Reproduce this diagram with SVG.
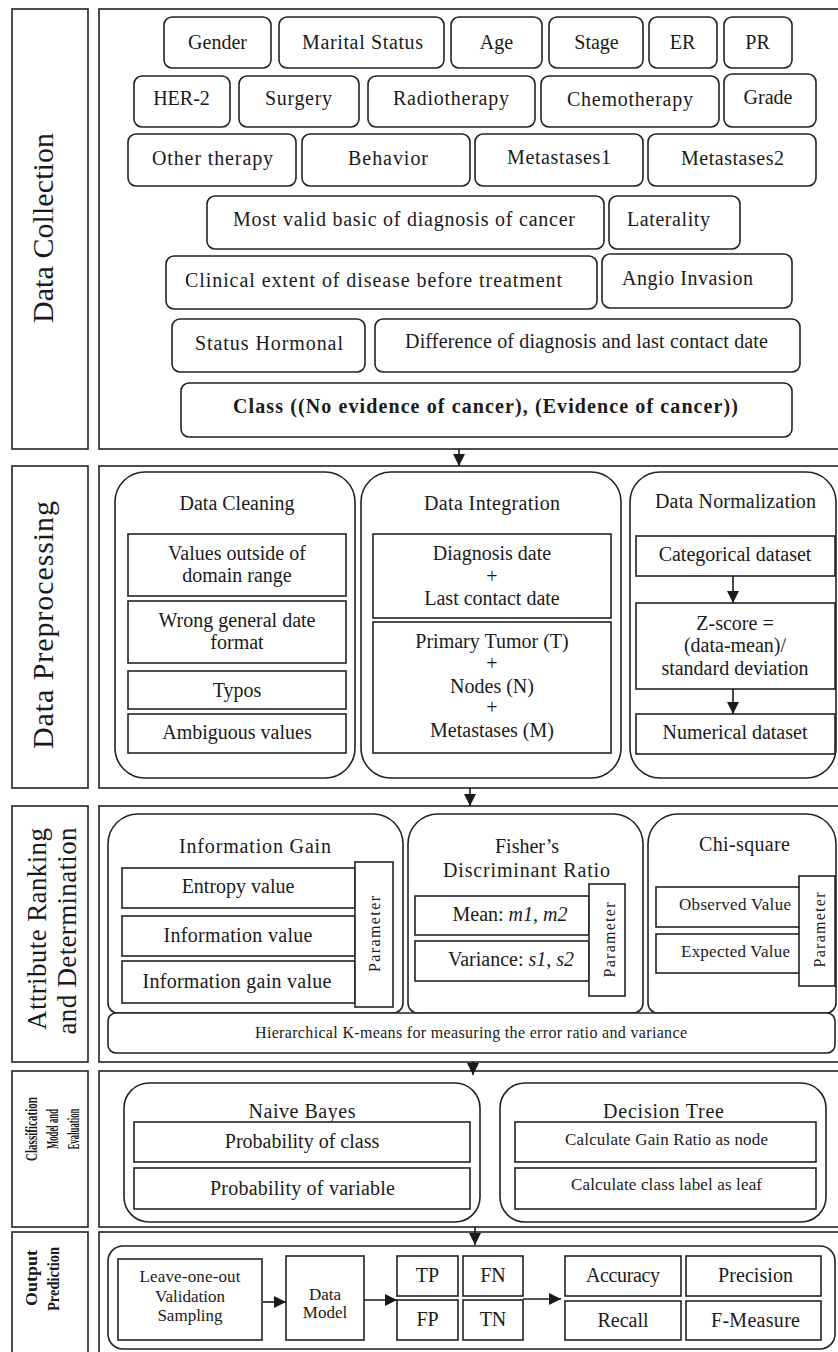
<svg xmlns="http://www.w3.org/2000/svg" width="838" height="1352" viewBox="0 0 838 1352">
  <defs>
    <marker id="arrow" viewBox="0 0 12 12" refX="12" refY="6" markerWidth="12" markerHeight="12" markerUnits="userSpaceOnUse" orient="auto">
      <path d="M0,0 L12,6 L0,12 Z" fill="#1a1a1a"/>
    </marker>
    <style>
      rect, path.panel { fill: #ffffff; stroke: #222222; stroke-width: 1.6; }
      text { font-family: "Liberation Serif", "Times New Roman", serif; fill: #1a1a1a; text-anchor: middle; }
      .f20 { font-size: 20px; }
      .f17 { font-size: 17px; }
      .f16 { font-size: 16px; }
      .lbl { font-size: 30px; }
      .lbl2 { font-size: 27px; }
      .lbs { font-size: 17px; font-weight: bold; }
      .b { font-weight: bold; }
      .conn line { stroke: #1a1a1a; stroke-width: 1.6; marker-end: url(#arrow); }
    </style>
  </defs>
  <rect x="0" y="0" width="838" height="1352" style="fill:#ffffff;stroke:none"/>

  <!-- ===== Stage 1: Data Collection ===== -->
  <g id="stage-collection">
    <rect x="12" y="9" width="76" height="440"/>
    <rect x="99" y="9" width="741" height="440"/>
    <text class="lbl" transform="translate(53,228) rotate(-90)" textLength="190">Data Collection</text>
  </g>
  <g id="attr-gender"><rect x="164" y="17" width="107" height="51" rx="8"/><text class="f20" x="217.5" y="49">Gender</text></g>
  <g id="attr-marital"><rect x="279" y="17" width="165" height="51" rx="8"/><text class="f20" x="362.5" y="49" textLength="121">Marital  Status</text></g>
  <g id="attr-age"><rect x="451" y="17" width="91" height="51" rx="8"/><text class="f20" x="496.5" y="49">Age</text></g>
  <g id="attr-stage"><rect x="549" y="17" width="94" height="51" rx="8"/><text class="f20" x="596.5" y="49">Stage</text></g>
  <g id="attr-er"><rect x="649" y="17" width="68" height="51" rx="8"/><text class="f20" x="682.5" y="49">ER</text></g>
  <g id="attr-pr"><rect x="724" y="17" width="68" height="51" rx="8"/><text class="f20" x="757.5" y="49">PR</text></g>

  <g id="attr-her2"><rect x="134" y="76" width="96" height="51" rx="8"/><text class="f20" x="181.5" y="105">HER-2</text></g>
  <g id="attr-surgery"><rect x="239" y="76" width="120" height="51" rx="8"/><text class="f20" x="298.5" y="105" textLength="67">Surgery</text></g>
  <g id="attr-radio"><rect x="368" y="76" width="167" height="51" rx="8"/><text class="f20" x="451" y="105" textLength="116">Radiotherapy</text></g>
  <g id="attr-chemo"><rect x="541" y="76" width="178" height="51" rx="8"/><text class="f20" x="630" y="106" textLength="126">Chemotherapy</text></g>
  <g id="attr-grade"><rect x="724" y="74" width="92" height="53" rx="8"/><text class="f20" x="768" y="104">Grade</text></g>

  <g id="attr-other"><rect x="128" y="134" width="168" height="52" rx="8"/><text class="f20" x="212.5" y="165" textLength="121">Other therapy</text></g>
  <g id="attr-behavior"><rect x="302" y="134" width="168" height="52" rx="8"/><text class="f20" x="388" y="165" textLength="80">Behavior</text></g>
  <g id="attr-meta1"><rect x="475" y="134" width="168" height="52" rx="8"/><text class="f20" x="559" y="164" textLength="104">Metastases1</text></g>
  <g id="attr-meta2"><rect x="648" y="134" width="168" height="52" rx="8"/><text class="f20" x="732.5" y="165" textLength="103">Metastases2</text></g>

  <g id="attr-basis"><rect x="207" y="196" width="397" height="53" rx="8"/><text class="f20" x="404" y="226" textLength="342">Most valid basic of diagnosis  of cancer</text></g>
  <g id="attr-laterality"><rect x="609" y="196" width="131" height="53" rx="8"/><text class="f20" x="668.5" y="226" textLength="83">Laterality</text></g>

  <g id="attr-extent"><rect x="166" y="256" width="431" height="53" rx="8"/><text class="f20" x="373.5" y="287" textLength="377">Clinical  extent  of disease  before treatment</text></g>
  <g id="attr-angio"><rect x="602" y="254" width="190" height="54" rx="8"/><text class="f20" x="687.5" y="285" textLength="131">Angio  Invasion</text></g>

  <g id="attr-hormonal"><rect x="172" y="319" width="193" height="53" rx="8"/><text class="f20" x="269" y="350" textLength="148">Status  Hormonal</text></g>
  <g id="attr-diff"><rect x="375" y="319" width="425" height="53" rx="8"/><text class="f20" x="586.5" y="348" textLength="363">Difference of diagnosis and last contact date</text></g>

  <g id="attr-class"><rect x="181" y="383" width="611" height="54" rx="8"/><text class="f20 b" x="485.5" y="413" textLength="505">Class ((No evidence of cancer), (Evidence of cancer))</text></g>

  <!-- ===== Stage 2: Data Preprocessing ===== -->
  <g id="stage-preprocessing">
    <rect x="12" y="466" width="76" height="322"/>
    <rect x="99" y="466" width="741" height="322"/>
    <text class="lbl" transform="translate(53,625) rotate(-90)" textLength="248">Data Preprocessing</text>
  </g>
  <g id="cleaning">
    <rect x="115" y="472" width="240" height="306" rx="30"/>
    <text class="f20" x="237" y="510" textLength="115">Data Cleaning</text>
    <rect x="128" y="534" width="218" height="62"/>
    <text class="f20" x="237" y="560">Values outside of</text>
    <text class="f20" x="237" y="582">domain range</text>
    <rect x="128" y="601" width="218" height="62"/>
    <text class="f20" x="237" y="627">Wrong general date</text>
    <text class="f20" x="237" y="649">format</text>
    <rect x="128" y="671" width="218" height="38"/>
    <text class="f20" x="237" y="697">Typos</text>
    <rect x="128" y="714" width="218" height="39"/>
    <text class="f20" x="237" y="739">Ambiguous values</text>
  </g>
  <g id="integration">
    <rect x="361" y="472" width="260" height="306" rx="30"/>
    <text class="f20" x="492" y="510" textLength="136">Data Integration</text>
    <rect x="373" y="534" width="238" height="84"/>
    <text class="f20" x="492" y="560">Diagnosis date</text>
    <text class="f20" x="492" y="583">+</text>
    <text class="f20" x="492" y="605">Last contact date</text>
    <rect x="373" y="622" width="238" height="131"/>
    <text class="f20" x="492" y="648">Primary Tumor (T)</text>
    <text class="f20" x="492" y="670">+</text>
    <text class="f20" x="492" y="693">Nodes (N)</text>
    <text class="f20" x="492" y="714">+</text>
    <text class="f20" x="492" y="737">Metastases (M)</text>
  </g>
  <g id="normalization">
    <rect x="630" y="472" width="206" height="306" rx="30"/>
    <text class="f20" x="735.5" y="508" textLength="161">Data Normalization</text>
    <rect x="636" y="536" width="199" height="40"/>
    <text class="f20" x="735" y="561">Categorical dataset</text>
    <rect x="636" y="603" width="199" height="86"/>
    <text class="f20" x="735" y="630">Z-score =</text>
    <text class="f20" x="735" y="652">(data-mean)/</text>
    <text class="f20" x="735" y="675">standard deviation</text>
    <rect x="636" y="714" width="199" height="40"/>
    <text class="f20" x="735" y="739">Numerical dataset</text>
  </g>

  <!-- ===== Stage 3: Attribute Ranking and Determination ===== -->
  <g id="stage-ranking">
    <rect x="12" y="806" width="76" height="256"/>
    <rect x="99" y="806" width="741" height="256"/>
    <text class="lbl2" transform="translate(46,929) rotate(-90)" textLength="202">Attribute Ranking</text>
    <text class="lbl2" transform="translate(76,931) rotate(-90)" textLength="207">and Determination</text>
  </g>
  <g id="info-gain">
    <path class="panel" d="M108,1003 L108,844 A30,30 0 0 1 138,814 L373,814 A30,30 0 0 1 403,844 L403,1003 A10,10 0 0 1 393,1013 L118,1013 A10,10 0 0 1 108,1003 Z"/>
    <text class="f20" x="255" y="853" textLength="152">Information  Gain</text>
    <rect x="122" y="868" width="233" height="40"/>
    <text class="f20" x="238" y="893">Entropy value</text>
    <rect x="122" y="916" width="233" height="40"/>
    <text class="f20" x="238" y="942" textLength="149">Information value</text>
    <rect x="122" y="961" width="233" height="42"/>
    <text class="f20" x="237" y="988" textLength="189">Information gain value</text>
    <rect x="355" y="862" width="38" height="145"/>
    <text class="f16" transform="translate(380,934) rotate(-90)" textLength="76">Parameter</text>
  </g>
  <g id="fisher">
    <path class="panel" d="M408,1003 L408,844 A30,30 0 0 1 438,814 L613,814 A30,30 0 0 1 643,844 L643,1003 A10,10 0 0 1 633,1013 L418,1013 A10,10 0 0 1 408,1003 Z"/>
    <text class="f20" x="527" y="853">Fisher’s</text>
    <text class="f20" x="526.5" y="877" textLength="167">Discriminant  Ratio</text>
    <rect x="415" y="896" width="174" height="39"/>
    <text class="f20" x="510" y="921">Mean: <tspan font-style="italic">m1, m2</tspan></text>
    <rect x="415" y="941" width="174" height="40"/>
    <text class="f20" x="511" y="966">Variance: <tspan font-style="italic">s1, s2</tspan></text>
    <rect x="589" y="884" width="36" height="112"/>
    <text class="f16" transform="translate(615,940) rotate(-90)" textLength="75">Parameter</text>
  </g>
  <g id="chi-square">
    <path class="panel" d="M648,1003 L648,844 A30,30 0 0 1 678,814 L806,814 A30,30 0 0 1 836,844 L836,1003 A10,10 0 0 1 826,1013 L658,1013 A10,10 0 0 1 648,1003 Z"/>
    <text class="f20" x="744.5" y="851" textLength="91">Chi-square</text>
    <rect x="656" y="887" width="144" height="40"/>
    <text class="f17" x="735" y="910" textLength="112">Observed Value</text>
    <rect x="656" y="934" width="144" height="39"/>
    <text class="f17" x="735.5" y="957" textLength="109">Expected Value</text>
    <rect x="799" y="876" width="36" height="110"/>
    <text class="f16" transform="translate(825,930) rotate(-90)" textLength="75">Parameter</text>
  </g>
  <g id="kmeans">
    <rect x="108" y="1013" width="727" height="40" rx="8"/>
    <text class="f16" x="471" y="1038" textLength="432">Hierarchical  K-means  for measuring  the  error ratio and variance</text>
  </g>

  <!-- ===== Stage 4: Classification Model and Evaluation ===== -->
  <g id="stage-classification">
    <rect x="12" y="1071" width="76" height="156"/>
    <rect x="99" y="1071" width="741" height="156"/>
    <text class="lbs" transform="translate(37,1129) rotate(-90)" textLength="64" lengthAdjust="spacingAndGlyphs">Classification</text>
    <text class="lbs" transform="translate(58,1129) rotate(-90)" textLength="40" lengthAdjust="spacingAndGlyphs">Model and</text>
    <text class="lbs" transform="translate(79,1129) rotate(-90)" textLength="41" lengthAdjust="spacingAndGlyphs">Evaluation</text>
  </g>
  <g id="naive-bayes">
    <rect x="124" y="1083" width="356" height="139" rx="25"/>
    <text class="f20" x="302" y="1118" textLength="107">Naive Bayes</text>
    <rect x="134" y="1122" width="336" height="40"/>
    <text class="f20" x="302" y="1148">Probability of class</text>
    <rect x="134" y="1168" width="336" height="41"/>
    <text class="f20" x="302.5" y="1195" textLength="185">Probability of variable</text>
  </g>
  <g id="decision-tree">
    <rect x="500" y="1083" width="326" height="139" rx="25"/>
    <text class="f20" x="663.5" y="1118" textLength="121">Decision  Tree</text>
    <rect x="515" y="1122" width="301" height="40"/>
    <text class="f17" x="666.5" y="1145" textLength="203">Calculate  Gain Ratio  as node</text>
    <rect x="515" y="1168" width="301" height="41"/>
    <text class="f17" x="666.5" y="1190" textLength="191">Calculate  class label as leaf</text>
  </g>

  <!-- ===== Stage 5: Output Prediction ===== -->
  <g id="stage-output">
    <rect x="12" y="1232" width="76" height="140"/>
    <rect x="99" y="1232" width="741" height="140"/>
    <text class="lbs" transform="translate(37,1278) rotate(-90)" textLength="56" lengthAdjust="spacingAndGlyphs">Output</text>
    <text class="lbs" transform="translate(59,1279) rotate(-90)" textLength="64" lengthAdjust="spacingAndGlyphs">Prediction</text>
    <rect x="108" y="1246" width="727" height="103" rx="15"/>
  </g>
  <g id="loo">
    <rect x="118" y="1259" width="144" height="81"/>
    <text class="f17" x="190" y="1282" textLength="101">Leave-one-out</text>
    <text class="f17" x="190" y="1302">Validation</text>
    <text class="f17" x="190" y="1321">Sampling</text>
  </g>
  <g id="data-model">
    <rect x="286" y="1256" width="78" height="84"/>
    <text class="f17" x="325" y="1300">Data</text>
    <text class="f17" x="325" y="1318">Model</text>
  </g>
  <g id="tp"><rect x="397" y="1256" width="61" height="40"/><text class="f20" x="427.5" y="1282">TP</text></g>
  <g id="fn"><rect x="463" y="1256" width="60" height="40"/><text class="f20" x="493" y="1282">FN</text></g>
  <g id="fp"><rect x="397" y="1300" width="61" height="40"/><text class="f20" x="427.5" y="1326">FP</text></g>
  <g id="tn"><rect x="463" y="1300" width="60" height="40"/><text class="f20" x="493" y="1326">TN</text></g>
  <g id="accuracy"><rect x="565" y="1256" width="116" height="40"/><text class="f20" x="623" y="1282" textLength="74">Accuracy</text></g>
  <g id="precision"><rect x="686" y="1256" width="135" height="40"/><text class="f20" x="755.5" y="1282" textLength="75">Precision</text></g>
  <g id="recall"><rect x="565" y="1301" width="116" height="39"/><text class="f20" x="623" y="1327">Recall</text></g>
  <g id="fmeasure"><rect x="686" y="1301" width="135" height="39"/><text class="f20" x="755.5" y="1327" textLength="89">F-Measure</text></g>

  <!-- ===== Connectors ===== -->
  <g id="connectors" class="conn">
    <line x1="459" y1="449" x2="459" y2="466"/>
    <line x1="470" y1="788" x2="470" y2="806"/>
    <line x1="473" y1="1062" x2="473" y2="1075"/>
    <line x1="475" y1="1227" x2="475" y2="1245"/>
    <line x1="733" y1="576" x2="733" y2="603"/>
    <line x1="733" y1="689" x2="733" y2="714"/>
    <line x1="263" y1="1302" x2="286" y2="1302"/>
    <line x1="364" y1="1300" x2="397" y2="1300"/>
    <line x1="523" y1="1299" x2="561" y2="1299"/>
  </g>
</svg>
